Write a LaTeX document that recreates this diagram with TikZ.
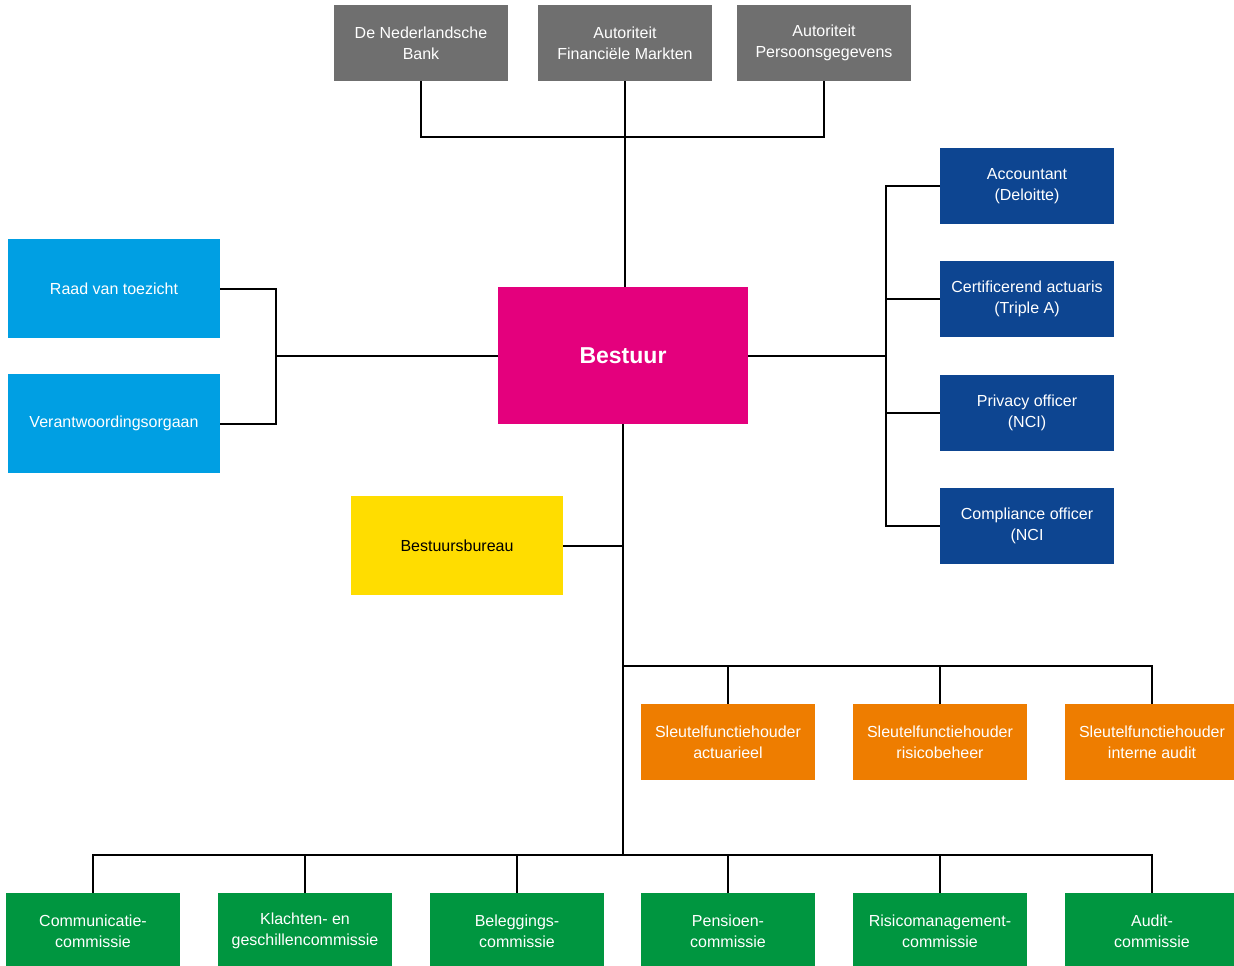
\documentclass[tikz,border=0pt]{standalone}
\usepackage{fontspec}
\setmainfont{Liberation Sans}
\definecolor{toezichtgray}{HTML}{6F6F6F}
\definecolor{bestuurmagenta}{HTML}{E4007D}
\definecolor{raadblue}{HTML}{009FE3}
\definecolor{adviesblue}{HTML}{0D4591}
\definecolor{bureauyellow}{HTML}{FFDD00}
\definecolor{sleutelorange}{HTML}{EE7D00}
\definecolor{commissiegreen}{HTML}{009640}
\tikzset{
  orgbox/.style={rectangle, inner sep=0pt, align=center, text=white,
    minimum width=174pt, minimum height=76pt,
    font=\fontsize{16}{21}\selectfont},
  widebox/.style={orgbox, minimum width=212pt, minimum height=99pt},
  link/.style={line width=2pt, black}
}
\begin{document}
\begin{tikzpicture}[x=1pt, y=-1pt]
    \useasboundingbox (0,0) rectangle (1234,966);

    % toezichthouders
    \node[orgbox, fill=toezichtgray] (dnb) at (421,43) {De Nederlandsche\\Bank};
    \node[orgbox, fill=toezichtgray] (afm) at (625,43) {Autoriteit\\Financiële Markten};
    \node[orgbox, fill=toezichtgray] (ap) at (824,43) {Autoriteit\\Persoonsgegevens};

    \node[orgbox, fill=bestuurmagenta, minimum width=250pt, minimum height=137pt,
      font=\fontsize{23}{27}\selectfont\bfseries] (bestuur) at (623,355.5) {Bestuur};

    \node[widebox, fill=raadblue] (rvt) at (114,288.5) {Raad van toezicht};
    \node[widebox, fill=raadblue] (vo) at (114,423.5) {Verantwoordingsorgaan};

    \node[orgbox, fill=adviesblue] (acc) at (1027,186) {Accountant\\(Deloitte)};
    \node[orgbox, fill=adviesblue] (act) at (1027,299) {Certificerend actuaris\\(Triple A)};
    \node[orgbox, fill=adviesblue] (priv) at (1027,413) {Privacy officer\\(NCI)};
    \node[orgbox, fill=adviesblue] (comp) at (1027,526) {Compliance officer\\(NCI};

    \node[widebox, fill=bureauyellow, text=black] (bb) at (457,545.5) {Bestuursbureau};

    % sleutelfuncties
    \node[orgbox, fill=sleutelorange] (sf1) at (728,742) {Sleutelfunctiehouder\\actuarieel};
    \node[orgbox, fill=sleutelorange] (sf2) at (940,742) {Sleutelfunctiehouder\\risicobeheer};
    \node[orgbox, fill=sleutelorange] (sf3) at (1152,742) {Sleutelfunctiehouder\\interne audit};

    % commissies
    \node[orgbox, fill=commissiegreen] (c1) at (93,931) {Communicatie-\\commissie};
    \node[orgbox, fill=commissiegreen] (c2) at (305,931) {Klachten- en\\geschillencommissie};
    \node[orgbox, fill=commissiegreen] (c3) at (517,931) {Beleggings-\\commissie};
    \node[orgbox, fill=commissiegreen] (c4) at (728,931) {Pensioen-\\commissie};
    \node[orgbox, fill=commissiegreen] (c5) at (940,931) {Risicomanagement-\\commissie};
    \node[orgbox, fill=commissiegreen] (c6) at (1152,931) {Audit-\\commissie};

    \coordinate (topj) at (625,137);
    \coordinate (leftj) at (276,355.5);
    \coordinate (rightj) at (886,355.5);
    \coordinate (sfj) at (623,666);
    \coordinate (cj) at (623,855);

    \draw[link] (dnb.south) |- (topj) -| (ap.south);
    \draw[link] (afm.south) -- (afm.south |- bestuur.north);
    \draw[link] (rvt.east) -| (leftj) |- (vo.east);
    \draw[link] (leftj) -- (bestuur.west);
    \draw[link] (bestuur.east) -- (rightj);
    \draw[link] (acc.west) -| (rightj) |- (comp.west);
    \draw[link] (act.west) -- (act.west -| rightj);
    \draw[link] (priv.west) -- (priv.west -| rightj);
    \draw[link] (bb.east) -- (bb.east -| bestuur.south);
    \draw[link] (bestuur.south) -- (cj);
    \draw[link] (sfj) -| (sf3.north);
    \draw[link] (sf1.north) -- (sf1.north |- sfj);
    \draw[link] (sf2.north) -- (sf2.north |- sfj);
    \draw[link] (c1.north) |- (cj) -| (c6.north);
    \foreach \c in {c2,c3,c4,c5}
        \draw[link] (\c.north) -- (\c.north |- cj);
\end{tikzpicture}
\end{document}
